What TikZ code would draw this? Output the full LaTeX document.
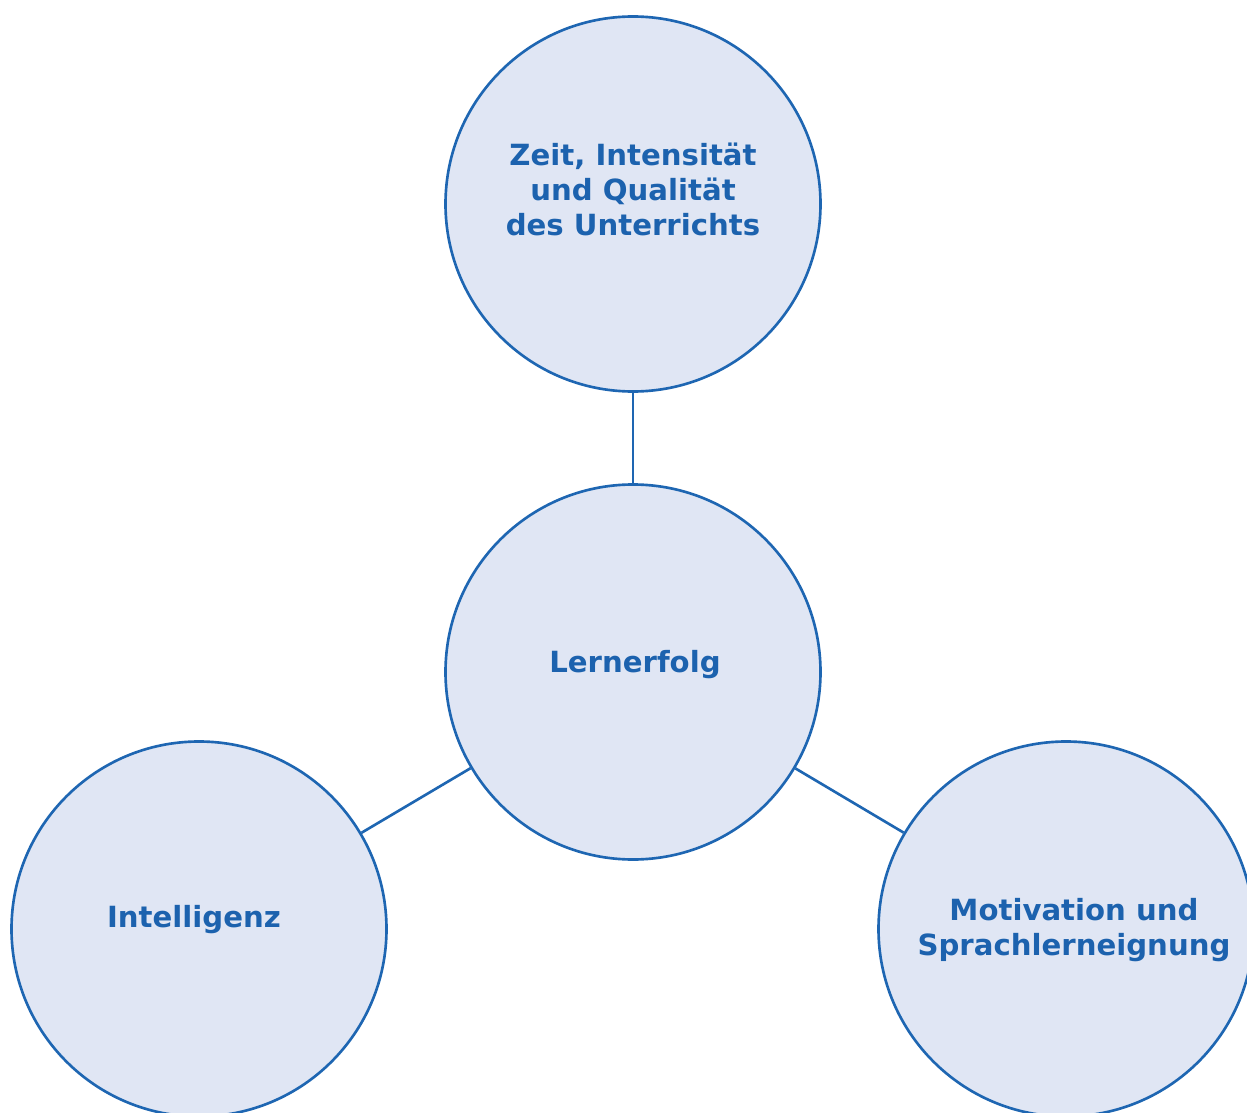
\documentclass[tikz,border=0pt]{standalone}
\usepackage{fontspec}
\setmainfont{DejaVu Sans}
\definecolor{ringcolor}{RGB}{30,102,178}
\definecolor{discfill}{RGB}{224,230,244}
\definecolor{labelcolor}{RGB}{28,98,174}
\usetikzlibrary{positioning, calc}

\begin{document}
\begin{tikzpicture}[
    factor/.style={circle, draw=ringcolor, fill=discfill, line width=1.5pt, minimum size=7.5cm, inner sep=0pt},
    caption/.style={text=labelcolor, font=\fontsize{16.6}{19.9}\selectfont\bfseries, align=center},
    link/.style={ringcolor, line width=1.5pt}
]
    \useasboundingbox (0,0) rectangle (24.94,-22.26);

    % Circles
    \node[factor] (zeit) at (12.66,-4.08) {};
    \node[factor] (erfolg) at (12.66,-13.44) {};
    \node[factor] (intel) at (3.98,-18.58) {};
    \node[factor] (motiv) at (21.32,-18.58) {};

    % Connect outer circles to the centre
    \draw[link] (zeit) -- (erfolg);
    \draw[link] (erfolg) -- (intel);
    \draw[link] (erfolg) -- (motiv);

    % Labels
    \node[caption] (zeittext) at ($(zeit.center)+(0,0.3)$) {Zeit, Intensität\\und Qualität\\des Unterrichts};
    \node[caption] (erfolgtext) at ($(erfolg.center)+(0.04,0.14)$) {Lernerfolg};
    \node[caption] (inteltext) at ($(intel.center)+(-0.1,0.18)$) {Intelligenz};
    \node[caption] (motivtext) at ($(motiv.center)+(0.16,-0.02)$) {Motivation und\\Sprachlerneignung};
\end{tikzpicture}
\end{document}
